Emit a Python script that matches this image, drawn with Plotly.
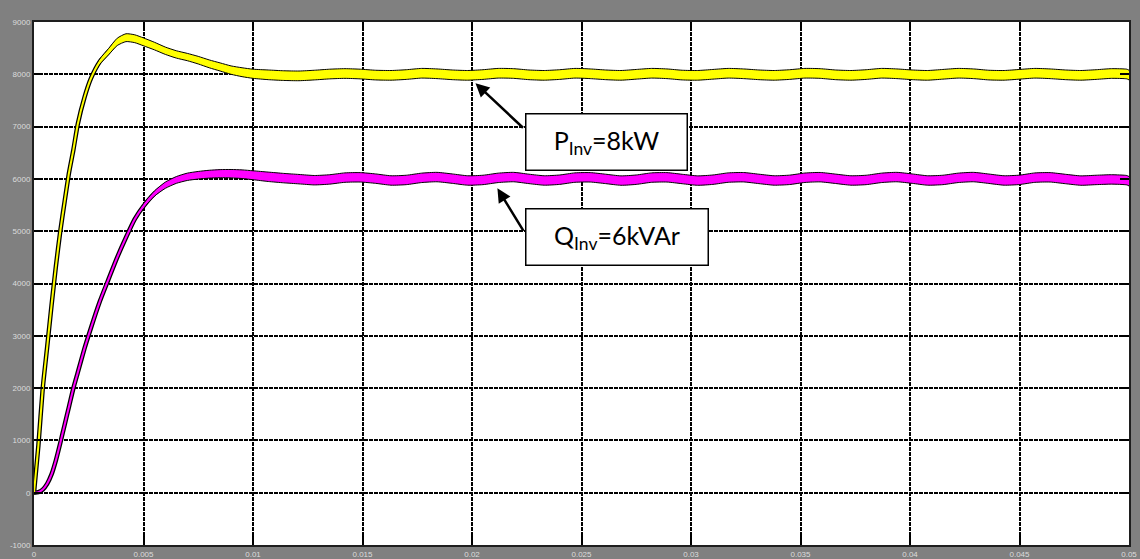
import plotly.graph_objects as go

# ---- simulation output: inverter active / reactive power (scope trace) ----
t_transient = [0, 0.0002, 0.0004, 0.0006, 0.0008, 0.001, 0.0012, 0.0014, 0.0016, 0.0018,
               0.002, 0.0023, 0.0026, 0.003, 0.0034, 0.0038, 0.0042, 0.0046, 0.005, 0.0055,
               0.006, 0.0065, 0.007, 0.0075, 0.008, 0.0085, 0.009, 0.0095, 0.01]
t_steady = [0.0107, 0.0114, 0.0121, 0.0128, 0.0135, 0.0142, 0.0149, 0.0156, 0.0163, 0.0170,
            0.0177, 0.0184, 0.0191, 0.0198, 0.0205, 0.0212, 0.0219, 0.0226, 0.0233, 0.0240,
            0.0247, 0.0254, 0.0261, 0.0268, 0.0275, 0.0282, 0.0289, 0.0296, 0.0303, 0.0310,
            0.0317, 0.0324, 0.0331, 0.0338, 0.0345, 0.0352, 0.0359, 0.0366, 0.0373, 0.0380,
            0.0387, 0.0394, 0.0401, 0.0408, 0.0415, 0.0422, 0.0429, 0.0436, 0.0443, 0.0450,
            0.0457, 0.0464, 0.0471, 0.0478, 0.0485, 0.0492, 0.0499, 0.05]
time_s = t_transient + t_steady

# P_Inv [W] (mean of the switching band)
p_transient = [0, 900, 2000, 2780, 3580, 4330, 5000, 5570, 6120, 6560,
               7050, 7550, 7920, 8240, 8430, 8620, 8700, 8680, 8620, 8540,
               8450, 8380, 8330, 8270, 8200, 8140, 8080, 8040, 8010]
p_steady = [7990, 7975, 7970, 7985, 8005, 8015, 8005, 7985, 7980, 7995,
            8020, 8010, 7990, 7980, 7995, 8020, 8015, 7990, 7980, 7995,
            8020, 8010, 7990, 7980, 8000, 8020, 8010, 7985, 7980, 8000,
            8020, 8010, 7990, 7980, 7995, 8020, 8015, 7990, 7980, 7995,
            8020, 8010, 7990, 7980, 8000, 8020, 8010, 7985, 7980, 8000,
            8020, 8010, 7990, 7980, 7995, 8015, 8005, 7985]
p_inv = p_transient + p_steady

# Q_Inv [VAr]
q_transient = [0, 10, 60, 170, 350, 620, 950, 1300, 1650, 2000,
               2300, 2750, 3150, 3650, 4080, 4500, 4880, 5230, 5480, 5720,
               5880, 5980, 6040, 6070, 6090, 6100, 6100, 6090, 6070]
q_steady = [6040, 6015, 5995, 5975, 5990, 6025, 6030, 6005, 5970, 5980,
            6020, 6035, 6005, 5970, 5980, 6020, 6035, 6000, 5970, 5985,
            6025, 6030, 6000, 5968, 5985, 6025, 6030, 5998, 5968, 5985,
            6025, 6032, 6000, 5970, 5982, 6022, 6033, 6002, 5970, 5980,
            6020, 6035, 6005, 5970, 5980, 6020, 6035, 6003, 5970, 5982,
            6024, 6030, 5998, 5968, 5980, 5990, 5975, 5955]
q_inv = q_transient + q_steady

# peak-to-peak width of the high-frequency switching ripple
p_ripple = [0, 20, 20, 20, 20, 20, 20, 20, 20, 20,
            20, 40, 70, 100, 120, 140, 150, 150, 150, 145,
            140, 140, 140, 145, 150, 155, 160, 170, 175] + [185] * len(t_steady)
q_ripple = [0, 10, 10, 10, 15, 15, 15, 15, 15, 15,
            15, 20, 20, 20, 25, 30, 40, 60, 80, 100,
            120, 130, 140, 145, 150, 155, 160, 165, 170] + [180] * len(t_steady)

x_ticks = [0, 0.005, 0.01, 0.015, 0.02, 0.025, 0.03, 0.035, 0.04, 0.045, 0.05]
x_tick_labels = ["0", "0.005", "0.01", "0.015", "0.02", "0.025", "0.03", "0.035", "0.04", "0.045", "0.05"]
y_ticks = [-1000, 0, 1000, 2000, 3000, 4000, 5000, 6000, 7000, 8000, 9000]
y_tick_labels = ["-1000", "0", "1000", "2000", "3000", "4000", "5000", "6000", "7000", "8000", "9000"]

P_COLOR = "#FFFF00"
Q_COLOR = "#FF00FF"

fig = go.Figure()


def add_band(values, ripple, color):
    lower = [v - r / 2 for v, r in zip(values, ripple)]
    upper = [v + r / 2 for v, r in zip(values, ripple)]
    edge = dict(color="black", width=1, shape="spline", smoothing=0.6)
    fig.add_trace(go.Scatter(x=time_s, y=lower, mode="lines", line=edge,
                             hoverinfo="skip", showlegend=False))
    fig.add_trace(go.Scatter(x=time_s, y=upper, mode="lines", line=edge,
                             fill="tonexty", fillcolor=color,
                             hoverinfo="skip", showlegend=False))


# dark outline under each trace
for vals in (q_inv, p_inv):
    fig.add_trace(go.Scatter(x=time_s, y=vals, mode="lines",
                             line=dict(color="black", width=4.5, shape="spline", smoothing=0.6),
                             hoverinfo="skip", showlegend=False))

add_band(q_inv, q_ripple, Q_COLOR)
add_band(p_inv, p_ripple, P_COLOR)

# bright core of each trace
fig.add_trace(go.Scatter(x=time_s, y=q_inv, mode="lines", name="Q_Inv",
                         line=dict(color=Q_COLOR, width=2, shape="spline", smoothing=0.6),
                         showlegend=False))
fig.add_trace(go.Scatter(x=time_s, y=p_inv, mode="lines", name="P_Inv",
                         line=dict(color=P_COLOR, width=2, shape="spline", smoothing=0.6),
                         showlegend=False))

label_font = dict(family="Lato, 'Open Sans', sans-serif", size=25, color="black")

# callout boxes
fig.add_annotation(x=0.02244, y=7266, xref="x", yref="y", xanchor="left", yanchor="top",
                   text="P<sub>Inv</sub>=8kW", showarrow=False, font=label_font,
                   bgcolor="white", bordercolor="black", borderwidth=1.5, borderpad=0,
                   width=160, height=55, align="center", valign="middle")
fig.add_annotation(x=0.02244, y=5449, xref="x", yref="y", xanchor="left", yanchor="top",
                   text="Q<sub>Inv</sub>=6kVAr", showarrow=False, font=label_font,
                   bgcolor="white", bordercolor="black", borderwidth=1.5, borderpad=0,
                   width=181, height=55, align="center", valign="middle")

# arrows from the boxes to the traces
arrow_style = dict(showarrow=True, text="", arrowhead=2, arrowsize=1.1, arrowwidth=2.5,
                   arrowcolor="black", standoff=0, startstandoff=0, xref="x", yref="y")
fig.add_annotation(x=0.02016, y=7830, ax=49, ay=46, **arrow_style)
fig.add_annotation(x=0.02116, y=5820, ax=27, ay=44, **arrow_style)

axis_common = dict(
    showgrid=True, gridcolor="black", gridwidth=2, griddash="4px,1px",
    zeroline=False, showline=True, linecolor="#1e1e1e", linewidth=2, mirror="ticks",
    ticks="inside", ticklen=9, tickwidth=2, tickcolor="black", automargin=False,
    tickfont=dict(family="Arial, 'Liberation Sans', sans-serif", size=8, color="#dcdcdc"),
)

fig.update_xaxes(range=[0, 0.05], tickvals=x_ticks, ticktext=x_tick_labels, **axis_common)
fig.update_yaxes(range=[-1000, 9000], tickvals=y_ticks, ticktext=y_tick_labels, **axis_common)

fig.update_layout(
    width=1140, height=559,
    margin=dict(l=34, r=11, t=22, b=14),
    paper_bgcolor="#808080",
    plot_bgcolor="white",
    showlegend=False,
)

fig.write_html("out.html")
